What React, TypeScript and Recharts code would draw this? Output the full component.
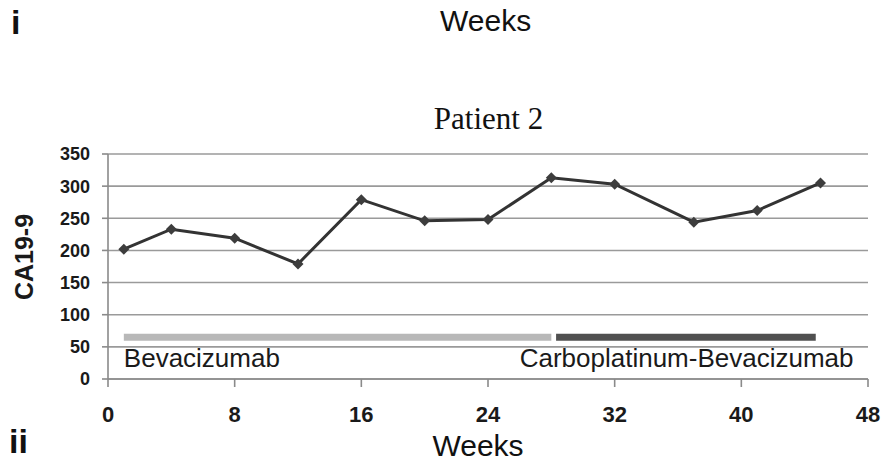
import React from 'react';
import { LineChart, Line, XAxis, YAxis, CartesianGrid, ReferenceDot } from 'recharts';

const weeks = [1, 4, 8, 12, 16, 20, 24, 28, 32, 37, 41, 45];
const ca199 = [202, 233, 219, 179, 279, 246, 248, 313, 303, 244, 262, 305];
const yTicks = [0, 50, 100, 150, 200, 250, 300, 350];
const xTicks = [0, 8, 16, 24, 32, 40, 48];

// treatment periods (start week, end week, level)
const bevaWeeks = [1, 28];
const carboWeeks = [28.3, 44.7];
const treatLevel = 65;

const data = weeks.map((w, i) => ({ week: w, value: ca199[i] }));
const bevaData = bevaWeeks.map((w) => ({ week: w, value: treatLevel }));
const carboData = carboWeeks.map((w) => ({ week: w, value: treatLevel }));

const FONT = 'Arial, "Liberation Sans", sans-serif';

const Diamond = (props: any) => {
  const { cx, cy } = props;
  if (cx == null || cy == null) return null;
  const r = 5.5;
  return <path d={`M${cx},${cy - r}L${cx + r},${cy}L${cx},${cy + r}L${cx - r},${cy}Z`} fill="#3d3d3d" />;
};

const treatLabel = (text: string) => (props: any) => {
  const { viewBox } = props;
  return (
    <text x={viewBox.x} y={viewBox.y + 30} fontFamily={FONT} fontSize={26} fill="#1a1a1a">
      {text}
    </text>
  );
};

const YLabel = () => (
  <text
    x={24}
    y={257}
    transform="rotate(-90, 24, 257)"
    textAnchor="middle"
    dominantBaseline="central"
    fontFamily={FONT}
    fontWeight="bold"
    fontSize={25}
    fill="#1a1a1a"
  >
    CA19-9
  </text>
);

const XLabel = () => (
  <text x={478} y={456} textAnchor="middle" fontFamily={FONT} fontSize={30} fill="#111">
    Weeks
  </text>
);

export default function App() {
  return (
    <div style={{ position: 'absolute', left: 0, top: 0, width: 884, height: 466, background: '#fff' }}>
      <div style={{ position: 'absolute', left: 11, top: 3, fontFamily: FONT, fontWeight: 'bold', fontSize: 34, lineHeight: '38px', color: '#111' }}>i</div>
      <div style={{ position: 'absolute', left: 440, top: 1, fontFamily: FONT, fontSize: 30, lineHeight: '40px', color: '#111' }}>Weeks</div>
      <div style={{ position: 'absolute', left: 0, width: 977, top: 97, textAlign: 'center', fontFamily: '"Liberation Serif", "Times New Roman", serif', fontSize: 31, lineHeight: '44px', color: '#111' }}>Patient 2</div>
      <div style={{ position: 'absolute', left: 9, top: 422, fontFamily: FONT, fontWeight: 'bold', fontSize: 34, lineHeight: '38px', color: '#111' }}>ii</div>
      <LineChart width={884} height={466} margin={{ top: 154, right: 16, bottom: 0, left: 0 }}>
        <CartesianGrid horizontal vertical={false} stroke="#9a9a9a" strokeWidth={1.6} />
        <XAxis
          type="number"
          dataKey="week"
          domain={[0, 48]}
          ticks={xTicks}
          height={87}
          tickSize={8}
          tickMargin={19}
          stroke="#8a8a8a"
          strokeWidth={1.6}
          tick={{ fontFamily: FONT, fontWeight: 'bold', fontSize: 22, fill: '#1a1a1a' }}
          allowDuplicatedCategory={false}
          label={<XLabel />}
        />
        <YAxis
          type="number"
          domain={[0, 350]}
          ticks={yTicks}
          width={108}
          tickSize={6}
          tickMargin={12}
          stroke="#8a8a8a"
          strokeWidth={1.6}
          tick={{ fontFamily: FONT, fontWeight: 'bold', fontSize: 18, fill: '#1a1a1a' }}
          label={<YLabel />}
        />
        <Line data={bevaData} dataKey="value" stroke="#b8b8b8" strokeWidth={7} strokeLinecap="butt" dot={false} isAnimationActive={false} />
        <Line data={carboData} dataKey="value" stroke="#505050" strokeWidth={7} strokeLinecap="butt" dot={false} isAnimationActive={false} />
        <Line
          data={data}
          dataKey="value"
          stroke="#333"
          strokeWidth={3}
          dot={<Diamond />}
          isAnimationActive={false}
        />
        <ReferenceDot x={1} y={treatLevel} r={0} fill="none" stroke="none" label={treatLabel('Bevacizumab')} />
        <ReferenceDot x={26} y={treatLevel} r={0} fill="none" stroke="none" label={treatLabel('Carboplatinum-Bevacizumab')} />
      </LineChart>
    </div>
  );
}
